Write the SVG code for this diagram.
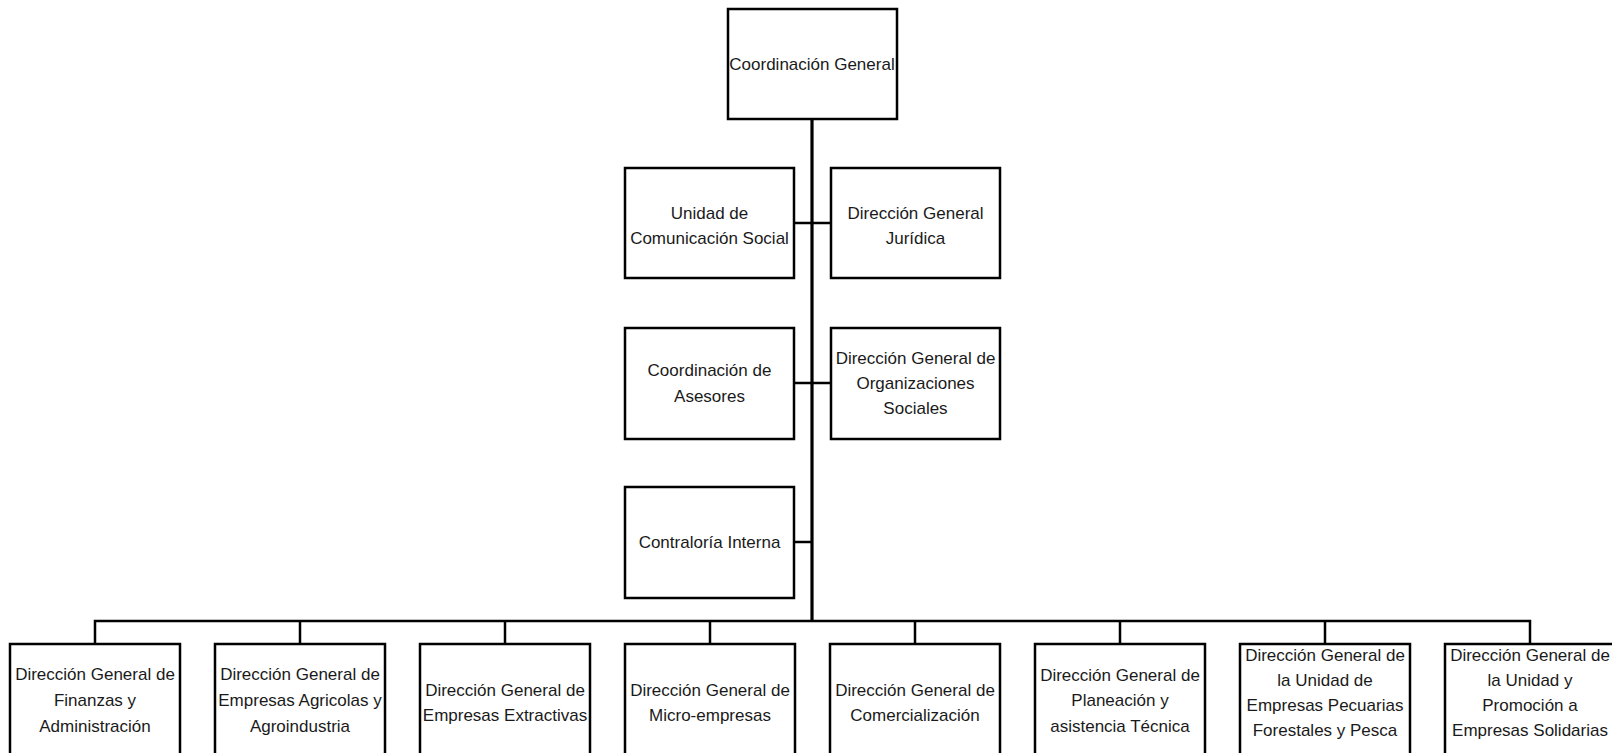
<svg xmlns="http://www.w3.org/2000/svg" width="1612" height="753" viewBox="0 0 1612 753">
<style>
.box{fill:#fff;stroke:#000;stroke-width:2.5}
.t{font-family:"Liberation Sans",Arial,sans-serif;font-size:17px;fill:#1a1a1a;text-anchor:middle}
.c{stroke:#000;stroke-width:2.5;fill:none}
.m{stroke:#000;stroke-width:3.2;fill:none}
</style>
<rect width="1612" height="753" fill="#fff"/>
<g id="connectors">
<line class="m" x1="812" y1="119" x2="812" y2="621"/>
<line class="c" x1="794" y1="223" x2="831" y2="223"/>
<line class="c" x1="794" y1="383" x2="831" y2="383"/>
<line class="c" x1="794" y1="542" x2="812" y2="542"/>
<polyline class="c" points="95,644 95,621 1530,621 1530,644"/>
<line class="c" x1="300" y1="621" x2="300" y2="644"/>
<line class="c" x1="505" y1="621" x2="505" y2="644"/>
<line class="c" x1="710" y1="621" x2="710" y2="644"/>
<line class="c" x1="915" y1="621" x2="915" y2="644"/>
<line class="c" x1="1120" y1="621" x2="1120" y2="644"/>
<line class="c" x1="1325" y1="621" x2="1325" y2="644"/>
</g>
<g id="n-coord-general"><rect class="box" x="728" y="9" width="169" height="110"/><text class="t" x="812" y="70">Coordinación General</text></g>
<g id="n-comunicacion"><rect class="box" x="625" y="168" width="169" height="110"/><text class="t" x="709.5" y="219">Unidad de</text><text class="t" x="709.5" y="244">Comunicación Social</text></g>
<g id="n-juridica"><rect class="box" x="831" y="168" width="169" height="110"/><text class="t" x="915.5" y="219">Dirección General</text><text class="t" x="915.5" y="244">Jurídica</text></g>
<g id="n-asesores"><rect class="box" x="625" y="328" width="169" height="111"/><text class="t" x="709.5" y="376">Coordinación de</text><text class="t" x="709.5" y="402">Asesores</text></g>
<g id="n-organizaciones"><rect class="box" x="831" y="328" width="169" height="111"/><text class="t" x="915.5" y="364">Dirección General de</text><text class="t" x="915.5" y="389">Organizaciones</text><text class="t" x="915.5" y="414">Sociales</text></g>
<g id="n-contraloria"><rect class="box" x="625" y="487" width="169" height="111"/><text class="t" x="709.5" y="548">Contraloría Interna</text></g>
<g id="n-finanzas"><rect class="box" x="10" y="644" width="170" height="125"/><text class="t" x="95" y="680">Dirección General de</text><text class="t" x="95" y="706">Finanzas y</text><text class="t" x="95" y="732">Administración</text></g>
<g id="n-agricolas"><rect class="box" x="215" y="644" width="170" height="125"/><text class="t" x="300" y="680">Dirección General de</text><text class="t" x="300" y="706">Empresas Agricolas y</text><text class="t" x="300" y="732">Agroindustria</text></g>
<g id="n-extractivas"><rect class="box" x="420" y="644" width="170" height="125"/><text class="t" x="505" y="696">Dirección General de</text><text class="t" x="505" y="721">Empresas Extractivas</text></g>
<g id="n-micro"><rect class="box" x="625" y="644" width="170" height="125"/><text class="t" x="710" y="696">Dirección General de</text><text class="t" x="710" y="721">Micro-empresas</text></g>
<g id="n-comercializacion"><rect class="box" x="830" y="644" width="170" height="125"/><text class="t" x="915" y="696">Dirección General de</text><text class="t" x="915" y="721">Comercialización</text></g>
<g id="n-planeacion"><rect class="box" x="1035" y="644" width="170" height="125"/><text class="t" x="1120" y="681">Dirección General de</text><text class="t" x="1120" y="706">Planeación y</text><text class="t" x="1120" y="732">asistencia Técnica</text></g>
<g id="n-pecuarias"><rect class="box" x="1240" y="644" width="170" height="125"/><text class="t" x="1325" y="661">Dirección General de</text><text class="t" x="1325" y="686">la Unidad de</text><text class="t" x="1325" y="711">Empresas Pecuarias</text><text class="t" x="1325" y="736">Forestales y Pesca</text></g>
<g id="n-solidarias"><rect class="box" x="1445" y="644" width="170" height="125"/><text class="t" x="1530" y="661">Dirección General de</text><text class="t" x="1530" y="686">la Unidad y</text><text class="t" x="1530" y="711">Promoción a</text><text class="t" x="1530" y="736">Empresas Solidarias</text></g>
</svg>
